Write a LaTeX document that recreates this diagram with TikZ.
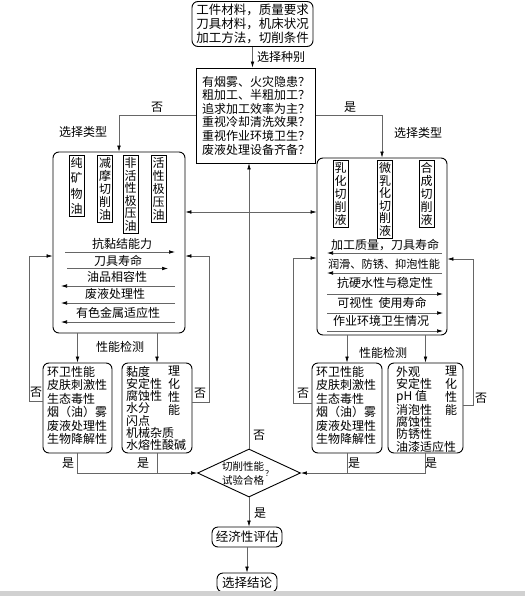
\documentclass[tikz,border=0pt]{standalone}
\usepackage{fontspec}
\setmainfont{Noto Sans CJK SC}
\usetikzlibrary{arrows.meta,shapes.geometric,calc}
\newcommand\myfs[2]{\fontsize{#1}{#2}\selectfont}
\begin{document}
\begin{tikzpicture}[x=1pt,y=-1pt,
  box/.style={draw=black,line width=0.9pt,rounded corners=6pt,inner sep=0pt},
  sqbox/.style={draw=black,line width=0.9pt,inner sep=0pt},
  vbox/.style={draw=black,line width=0.8pt,inner xsep=1.5pt,inner ysep=2pt,align=center,text width=12pt,anchor=north,font=\myfs{12}{13}},
  conn/.style={draw=black!60,line width=0.6pt},
  arr/.style={conn,-{Latex[length=6pt,width=3.6pt,color=black]}},
  lbl/.style={inner sep=0pt,font=\myfs{12}{14}},
  row/.style={inner sep=0pt,font=\myfs{12}{14}},
  blist/.style={inner sep=0pt,align=left,anchor=north west},
]
\useasboundingbox (0,0) rectangle (525,596);

% top
\node[box,minimum width=121pt,minimum height=45pt,align=center,font=\myfs{12.5}{14}] (top) at (252.5,24) {工件材料，质量要求\\刀具材料，机床状况\\加工方法，切削条件};
\node[sqbox,minimum width=119pt,minimum height=95pt,align=left,font=\myfs{12}{13.6}] (q) at (256,115.5) {有烟雾、火灾隐患？\\粗加工、半粗加工？\\追求加工效率为主？\\重视冷却清洗效果？\\重视作业环境卫生？\\废液处理设备齐备？};
\draw[arr] (top.south) -- (top.south |- q.north);
\node[lbl] (l0) at (281,57) {选择种别};

% big boxes
\node[box,minimum width=132pt,minimum height=181pt] (lbig) at (119,242.5) {};
\node[box,minimum width=130pt,minimum height=177pt] (rbig) at (382,246.5) {};
\draw[arr] (q.west) -| (lbig.north);
\draw[arr] (q.east) -| (rbig.north);
\node[lbl] (lno) at (157,107) {否};
\node[lbl] (lyes) at (350,107) {是};
\node[lbl] (lt1) at (83,132) {选择类型};
\node[lbl] (lt2) at (418,133) {选择类型};

% left vertical boxes
\node[vbox,font=\myfs{12}{15.3}] (v1) at (76.5,155) {纯\\矿\\物\\油};
\node[vbox] (v2) at (105,155) {减\\摩\\切\\削\\油};
\node[vbox,font=\myfs{12}{12.6}] (v3) at (130.5,155) {非\\活\\性\\极\\压\\油};
\node[vbox] (v4) at (158.5,155) {活\\性\\极\\压\\油};

% left rows
\node[row] (a1) at (122,244) {抗黏结能力};
\node[row] (a2) at (118,261) {刀具寿命};
\node[row] (a3) at (117,277) {油品相容性};
\node[row] (a4) at (115,294) {废液处理性};
\node[row] (a5) at (118,313) {有色金属适应性};
\draw[arr] (65,252) -- (175,252);
\draw[arr] (67,268.5) -- (168,268.5);
\draw[arr] (175,286) -- (61,286);
\draw[arr] (175,303) -- (61,303);
\draw[arr] (175,322) -- (61,322);

% right vertical boxes
\node[vbox] (w1) at (340.5,160) {乳\\化\\切\\削\\液};
\node[vbox,font=\myfs{12}{12.6}] (w2) at (385,160) {微\\乳\\化\\切\\削\\液};
\node[vbox] (w3) at (426.5,160) {合\\成\\切\\削\\液};

% right rows
\node[row] (b1) at (385,245) {加工质量，刀具寿命};
\node[row,font=\myfs{11.2}{14}] (b2) at (384,264) {润滑、防锈、抑泡性能};
\node[row] (b3) at (385,283) {抗硬水性与稳定性};
\node[row] (b4) at (382,303) {可视性\ \ 使用寿命};
\node[row] (b5) at (381,321) {作业环境卫生情况};
\draw[arr] (442,253) -- (327,253);
\draw[arr] (442,273) -- (327,273);
\draw[arr] (327,294) -- (443,294);
\draw[arr] (327,313) -- (443,313);
\draw[arr] (327,331) -- (443,331);

% bottom boxes
\node[box,minimum width=69pt,minimum height=90pt] (lhy) at (77.5,408) {};
\node[box,minimum width=70pt,minimum height=90pt] (lhz) at (157,408) {};
\node[box,minimum width=70pt,minimum height=90pt] (rhy) at (347,408) {};
\node[box,minimum width=75pt,minimum height=90pt] (rwg) at (425.5,408) {};

\node[blist,font=\myfs{12}{13.5}] (t1) at (47,366) {环卫性能\\皮肤刺激性\\生态毒性\\烟（油）雾\\废液处理性\\生物降解性};
\node[blist,font=\myfs{12}{12.2}] (t2) at (126,366) {黏度\\安定性\\腐蚀性\\水分\\闪点\\机械杂质\\水熔性酸碱};
\node[vbox,draw=none,inner sep=0pt,font=\myfs{12}{13}] (t2v) at (174,366) {理\\化\\性\\能};
\node[blist,font=\myfs{12}{13.5}] (t3) at (316,366) {环卫性能\\皮肤刺激性\\生态毒性\\烟（油）雾\\废液处理性\\生物降解性};
\node[blist,font=\myfs{12}{12.2}] (t4) at (396,366) {外观\\安定性\\pH 值\\消泡性\\腐蚀性\\防锈性\\油漆适应性};
\node[vbox,draw=none,inner sep=0pt,font=\myfs{12}{13}] (t4v) at (451,366) {理\\化\\性\\能};

\draw[arr] (lbig.south -| lhy.north) -- (lhy.north);
\draw[arr] (lbig.south -| lhz.north) -- (lhz.north);
\draw[arr] (rbig.south -| rhy.north) -- (rhy.north);
\draw[arr] (rbig.south -| rwg.north) -- (rwg.north);
\node[lbl] (p1) at (120,347) {性能检测};
\node[lbl] (p2) at (383,353) {性能检测};

% diamond
\node[draw=black,line width=0.9pt,diamond,aspect=2.15,minimum width=103pt,minimum height=48pt,inner sep=0pt] (dia) at (249,473) {};
\node[inner sep=0pt,align=center,font=\myfs{10.5}{14}] (dt) at (243,473) {切削性能\\试验合格};
\node[inner sep=0pt,font=\myfs{8}{8}] (dq) at (269,473) {？};

% central line
\coordinate (jy) at (0,212);
\draw[arr] (dia.north) -- (dia.north |- q.south);
\draw[arr] (dia.north |- jy) -- (lbig.east |- jy);
\draw[arr] (dia.north |- jy) -- (rbig.west |- jy);
\node[lbl] (cno) at (259,435) {否};

% feedback loops
\coordinate (fl) at (29,256); \coordinate (fl2) at (29,401);
\draw[arr] (lhy.west |- fl2) -- (fl2) -- (fl) -- (lbig.west |- fl);
\node[lbl] (n1) at (36,392) {否};
\coordinate (gl) at (209,256); \coordinate (gl2) at (209,402);
\draw[arr] (lhz.east |- gl2) -- (gl2) -- (gl) -- (lbig.east |- gl);
\node[lbl] (n2) at (200,393) {否};
\coordinate (gr) at (293,258); \coordinate (gr2) at (293,403);
\draw[arr] (rhy.west |- gr2) -- (gr2) -- (gr) -- (rbig.west |- gr);
\node[lbl] (n3) at (303,393) {否};
\coordinate (hr) at (473,259); \coordinate (hr2) at (473,405);
\draw[arr] (rwg.east |- hr2) -- (hr2) -- (hr) -- (rbig.east |- hr);
\node[lbl] (n4) at (481,398) {否};

% yes lines into diamond
\draw[arr] (lhy.south) |- (dia.west);
\draw[conn] (lhz.south) -- (lhz.south |- dia.west);
\draw[arr] (rwg.south) |- (dia.east);
\draw[conn] (rhy.south) -- (rhy.south |- dia.east);
\node[lbl] (y1) at (68,463) {是};
\node[lbl] (y2) at (143,463) {是};
\node[lbl] (y3) at (354,463) {是};
\node[lbl] (y4) at (431,463) {是};

% bottom chain
\node[box,minimum width=70pt,minimum height=20pt,font=\myfs{12.5}{14}] (econ) at (247,537) {经济性评估};
\node[box,minimum width=60pt,minimum height=19pt,font=\myfs{12.5}{14}] (concl) at (247,582.5) {选择结论};
\draw[arr] (dia.south) -- (dia.south |- econ.north);
\node[lbl] (y5) at (260,513) {是};
\draw[arr] (econ.south) -- (econ.south |- concl.north);
\fill[black!18] (0,591) rectangle (525,596);
\end{tikzpicture}
\end{document}
